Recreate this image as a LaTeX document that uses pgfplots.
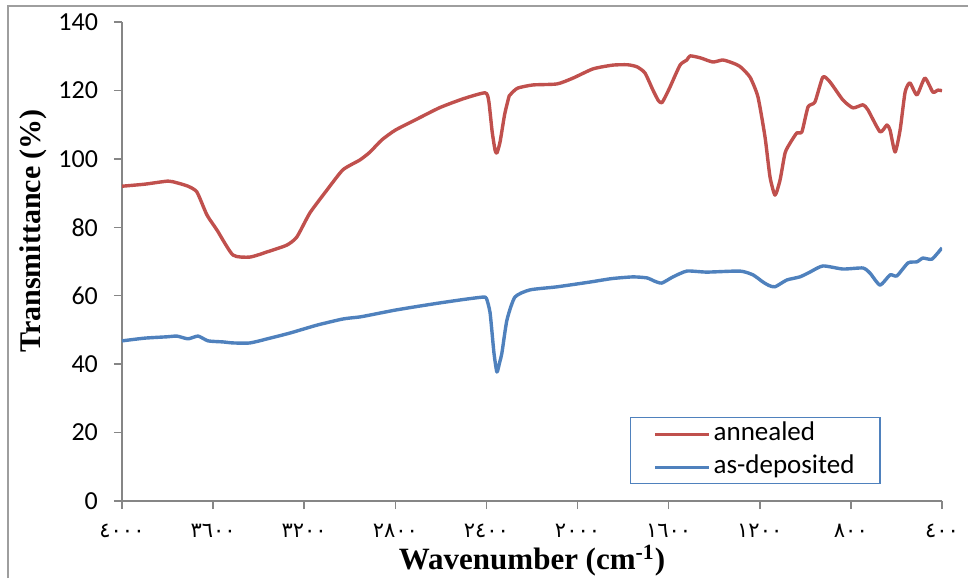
\documentclass[border=0pt]{standalone}
\usepackage{pgfplots}
\pgfplotsset{compat=1.18}
\usepackage{fontspec}
\setmainfont{Carlito}
\newfontfamily\timesfont{Liberation Serif}
\newfontfamily\arabicfont{DejaVu Sans}
\definecolor{annred}{HTML}{C0504D}
\definecolor{depblue}{HTML}{4F81BD}
\definecolor{axgray}{HTML}{868686}
\pgfplotstableread{
w v
4000 92.0
3900 92.6
3798 93.5
3759 93.0
3710 92.0
3671 90.3
3627 83.6
3583 79.2
3513 71.9
3438 71.3
3363 72.8
3276 74.8
3232 77.2
3175 84.2
3100 90.9
3030 96.8
2955 99.7
2911 102.0
2860 105.5
2800 108.4
2700 111.8
2604 115.0
2500 117.6
2406 119.3
2390 117.0
2375 108.0
2362 102.5
2354 101.7
2340 105.0
2320 113.0
2300 118.4
2288 119.3
2262 120.7
2196 121.6
2090 121.9
2020 123.6
1932 126.3
1845 127.4
1780 127.5
1739 126.9
1704 125.1
1669 120.1
1645 117.0
1630 116.4
1612 118.5
1594 121.0
1550 127.4
1520 128.9
1506 130.1
1460 129.5
1406 128.3
1362 128.9
1318 128.0
1287 127.0
1243 123.9
1208 118.1
1177 106.4
1155 94.7
1133 89.4
1111 93.8
1089 101.7
1067 104.6
1037 107.6
1015 107.9
988 115.2
958 116.6
923 123.9
892 122.5
835 117.2
791 114.9
747 115.8
725 114.3
672 107.9
642 109.9
628 108.4
606 102.0
584 108.4
562 119.5
541 122.2
510 118.7
475 123.6
440 119.5
418 120.1
400 119.9
}\annealed
\pgfplotstableread{
w v
4000 46.8
3900 47.6
3800 48.0
3759 48.2
3710 47.4
3666 48.2
3622 46.8
3557 46.5
3513 46.2
3438 46.2
3350 47.6
3262 49.1
3144 51.4
3030 53.2
2955 53.8
2900 54.5
2800 55.8
2700 56.9
2604 57.9
2500 58.9
2415 59.6
2400 59.2
2384 55.0
2367 43.3
2354 37.7
2342 40.5
2332 43.3
2310 52.9
2275 59.6
2209 61.7
2090 62.6
1945 64.0
1850 65.0
1757 65.5
1695 65.2
1660 64.2
1630 63.7
1581 65.5
1520 67.2
1432 66.9
1287 67.2
1230 66.1
1186 64.0
1160 63.0
1133 62.6
1081 64.6
1024 65.5
980 66.9
923 68.7
835 67.8
747 68.1
716 66.6
672 63.1
628 66.1
598 65.8
549 69.6
510 69.9
484 71.0
444 70.7
400 74.0
}\deposited
\begin{document}
\begin{tikzpicture}
\path[use as bounding box] (0,0) rectangle (484pt,289pt);
\draw[axgray!80, line width=0.7pt] (4pt,0pt) -- (4pt,286pt) -- (484pt,286pt);
\begin{axis}[
  at={(61pt,38.5pt)}, anchor=south west,
  scale only axis, width=410pt, height=239.5pt,
  x dir=reverse,
  xmin=400, xmax=4000, ymin=0, ymax=140,
  axis lines*=left,
  axis line style={axgray, line width=0.75pt},
  tick align=outside,
  major tick length=4pt,
  tick style={axgray, line width=0.75pt},
  ytick={0,20,40,60,80,100,120,140},
  xtick={400,800,1200,1600,2000,2400,2800,3200,3600,4000},
  xticklabels={٤٠٠,٨٠٠,١٢٠٠,١٦٠٠,٢٠٠٠,٢٤٠٠,٢٨٠٠,٣٢٠٠,٣٦٠٠,٤٠٠٠},
  xticklabel style={font=\arabicfont\fontsize{10.5}{12}\selectfont, yshift=-4pt},
  yticklabel style={font=\fontsize{13}{15}\selectfont, xshift=-4.5pt},
  /pgf/number format/assume math mode=true,
  xlabel={Wavenumber (cm\textsuperscript{-1})},
  ylabel={Transmittance (\%)},
  every axis x label/.style={at={(axis description cs:0.5,-0.144)}, anchor=base, font=\timesfont\bfseries\fontsize{15.5}{18}\selectfont},
  every axis y label/.style={at={(axis description cs:-0.1085,0.564)}, anchor=center, rotate=90, font=\timesfont\bfseries\fontsize{15}{18}\selectfont},
  legend style={at={(axis description cs:0.6195,0.1754)}, anchor=north west,
    draw=depblue, line width=0.75pt, inner xsep=11.5pt, inner ysep=0pt,
    font=\fontsize{13.5}{15}\selectfont,
    nodes={inner xsep=1.25pt, inner ysep=2.25pt, text height=9pt, text depth=3pt, anchor=base west}},
  legend cell align=left,
  legend image code/.code={\draw[#1] (0pt,3pt) -- (27pt,3pt);},
]
\addplot[annred, line width=1.7pt, line join=round, smooth, tension=0.35] table[x=w,y=v] {\annealed};
\addlegendentry{annealed}
\addplot[depblue, line width=1.7pt, line join=round, smooth, tension=0.35] table[x=w,y=v] {\deposited};
\addlegendentry{as-deposited}
\end{axis}
\end{tikzpicture}
\end{document}
